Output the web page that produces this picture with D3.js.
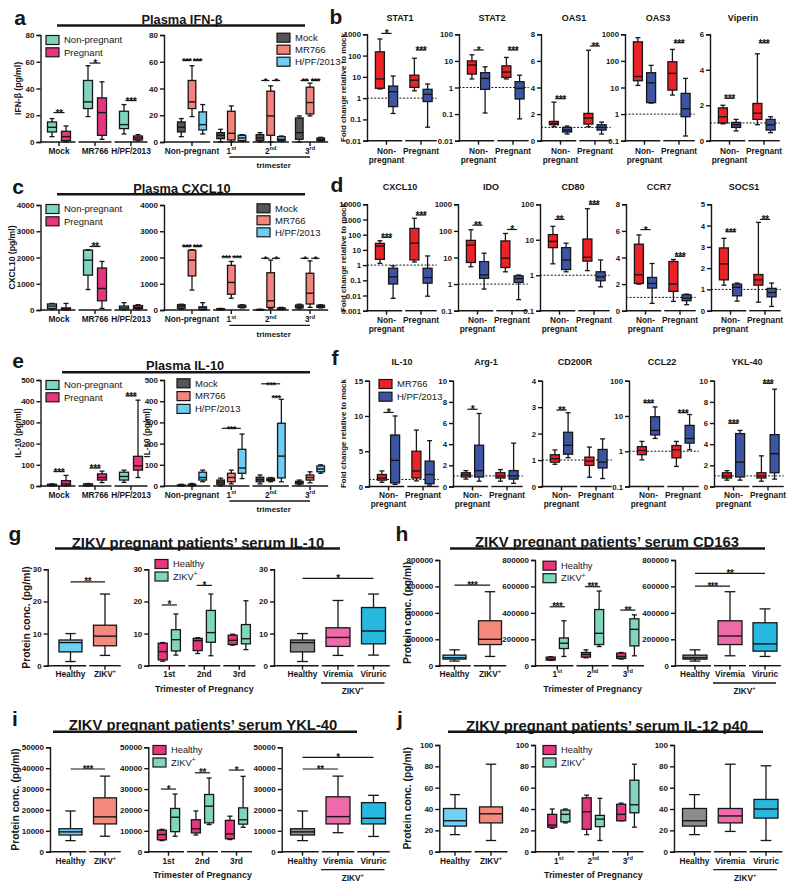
<!DOCTYPE html>
<html><head><meta charset="utf-8">
<script src="https://cdn.jsdelivr.net/npm/d3@7"></script>
<style>
body{margin:0;background:#fff;}
svg{display:block;}
</style></head><body>
<svg id="fig" width="800" height="887"></svg>
<script>
// ======================= DATA =======================
// box stats: [min, q1, median, q3, max]; nested [group][series]
// sig: [groupA, seriesA, groupB, seriesB, value, label]
const pregSeries = ["Non-pregnant", "Pregnant"];
const virusSeries = ["Mock", "MR766", "H/PF/2013"];
const strainSeries = ["MR766", "H/PF/2013"];
const plasmaGroupsLeft = ["Mock", "MR766", "H/PF/2013"];
const trimGroups = ["Non-pregnant", "1^st", "2^nd", "3^rd"];
const pregGroups = ["Non-\npregnant", "Pregnant"];

// Panel a – Plasma IFN-β
const aTicks = [0, 20, 40, 60, 80];
const aLeftBoxes = [
  [[4, 7.5, 11, 15, 17.5], [0, 1, 4, 8, 12]],
  [[19, 25, 30, 46, 57], [2, 5, 22, 33, 45]],
  [[6, 10, 13, 23, 28], [1, 1.5, 3, 4.5, 5.5]]
];
const aLeftSig = [[0, 0, 0, 1, 22, "**"], [1, 0, 1, 1, 59, "*"], [2, 0, 2, 1, 31, "***"]];
const aRightBoxes = [
  [[4, 7.5, 11, 15, 17.5], [19, 25, 30, 46, 57], [6, 9, 13, 22.5, 28]],
  [[0, 2.5, 5, 7, 9.5], [0, 1.5, 6.5, 23, 27], [0.5, 1, 3, 5, 5.5]],
  [[0, 1, 3, 5.5, 7], [0, 5, 19.5, 38, 42], [0.5, 1, 2, 4, 4.5]],
  [[0, 2, 7, 18, 19.5], [19.5, 21, 29.5, 41, 44], [0.5, 1, 2, 3, 3.5]]
];
const aRightSig = [[0, 0, 0, 1, 61, "***"], [0, 1, 0, 2, 61, "***"], [2, 0, 2, 1, 46, "*"], [2, 1, 2, 2, 46, "*"], [3, 0, 3, 1, 46, "**"], [3, 1, 3, 2, 46, "***"]];

// Panel c – Plasma CXCL10
const cTicks = [0, 1000, 2000, 3000, 4000];
const cLeftBoxes = [
  [[30, 60, 150, 230, 250], [0, 10, 40, 80, 250]],
  [[780, 1330, 1900, 2280, 2300], [60, 350, 820, 1600, 1850]],
  [[0, 30, 80, 150, 280], [20, 50, 100, 170, 200]]
];
const cLeftSig = [[1, 0, 1, 1, 2420, "**"]];
const cRightBoxes = [
  [[30, 60, 150, 200, 220], [760, 1300, 1900, 2280, 2300], [0, 20, 80, 120, 280]],
  [[0, 10, 30, 50, 60], [450, 600, 1050, 1700, 1850], [80, 100, 150, 180, 200]],
  [[0, 5, 10, 20, 30], [50, 100, 350, 1420, 1900], [10, 30, 50, 80, 100]],
  [[50, 80, 120, 190, 220], [100, 230, 640, 1400, 1870], [80, 100, 140, 180, 200]]
];
const cRightSig = [[0, 0, 0, 1, 2420, "***"], [0, 1, 0, 2, 2420, "***"], [1, 0, 1, 1, 2030, "***"], [1, 1, 1, 2, 2030, "***"], [2, 0, 2, 1, 1970, "*"], [2, 1, 2, 2, 1970, "*"], [3, 0, 3, 1, 1970, "*"], [3, 1, 3, 2, 1970, "*"]];

// Panel e – Plasma IL-10
const eTicks = [0, 100, 200, 300, 400, 500];
const eLeftBoxes = [
  [[0, 2, 5, 8, 10], [0, 3, 10, 25, 50]],
  [[0, 2, 5, 10, 12], [16, 28, 40, 57, 70]],
  [[17, 28, 45, 65, 75], [40, 75, 95, 140, 405]]
];
const eLeftSig = [[0, 0, 0, 1, 68, "***"], [1, 0, 1, 1, 85, "***"], [2, 0, 2, 1, 425, "***"]];
const eRightBoxes = [
  [[0, 1, 3, 5, 8], [0, 2, 5, 8, 12], [20, 28, 40, 65, 75]],
  [[0, 8, 18, 28, 37], [10, 20, 40, 60, 75], [35, 60, 85, 173, 245]],
  [[10, 20, 30, 41, 52], [20, 25, 30, 37, 40], [20, 38, 141, 296, 409]],
  [[5, 10, 15, 22, 28], [15, 28, 40, 52, 67], [60, 67, 80, 95, 100]]
];
const eRightSig = [[1, 0, 1, 2, 272, "***"], [2, 0, 2, 2, 482, "***"], [2, 1, 2, 2, 422, "***"]];

// Panel b – fold change (series: MR766, H/PF/2013)
const bGenes = ["STAT1", "STAT2", "OAS1", "OAS3", "Viperin"];
const bSTAT1 = [[[2.7, 2.9, 8, 150, 600], [0.19, 0.4, 2, 3.7, 11]], [[2.2, 3.2, 7, 12, 75], [0.043, 0.69, 1.5, 2.6, 4.6]]];
const bSTAT2 = [[[2.1, 3.2, 7, 10, 17], [0.11, 0.85, 2.2, 3.6, 6]], [[2.1, 2.4, 3.8, 6.5, 13.5], [0.066, 0.37, 0.93, 1.65, 2.9]]];
const bOAS1 = [[[1.05, 1.2, 1.3, 1.45, 2.9], [0.5, 0.65, 0.8, 1.0, 1.1]], [[1.05, 1.25, 1.7, 2.05, 6.8], [0.5, 0.8, 1.0, 1.2, 1.4]]];
const bOAS3 = [[[12, 18, 26, 520, 750], [2.6, 2.7, 15, 36, 68]], [[5.2, 8, 34, 93, 270], [0.15, 0.8, 1.6, 6, 22]]];
const bViperin = [[[0.95, 1.0, 1.35, 1.85, 2.0], [0.55, 0.75, 0.9, 1.03, 1.2]], [[0.9, 1.2, 1.55, 2.1, 4.9], [0.45, 0.6, 0.9, 1.2, 1.35]]];
const bSig = [
  [[0, 0, 0, 1, 1100, "*"], [1, 0, 1, 1, 183, "***"]],
  [[0, 0, 0, 1, 25.7, "*"], [1, 0, 1, 1, 25.7, "***"]],
  [[0, 0, 0, 1, 3.16, "***"], [1, 0, 1, 1, 7.12, "**"]],
  [[1, 0, 1, 1, 483, "***"]],
  [[0, 0, 0, 1, 2.39, "***"], [1, 0, 1, 1, 5.52, "***"]]
];
const bTicks = [[0.01, 0.1, 1, 10, 100, 1000], [0.01, 0.1, 1, 10, 100], [0, 2, 4, 6, 8], [0.1, 1, 10, 100, 1000], [0, 2, 4, 6]];

// Panel d
const dGenes = ["CXCL10", "IDO", "CD80", "CCR7", "SOCS1"];
const dCXCL10 = [[[1.3, 2.4, 18, 27, 40], [0.0065, 0.057, 0.17, 0.62, 0.9]], [[1.6, 2.2, 28, 260, 1200], [0.009, 0.065, 0.15, 0.62, 4]]];
const dIDO = [[[4.5, 6.5, 29, 44, 110], [0.65, 1.65, 2.2, 7, 14.5]], [[2.9, 4.2, 9.5, 42, 80], [0.26, 1.15, 1.6, 2.05, 2.2]]];
const dCD80 = [[[2.1, 6, 9, 14, 24], [1.25, 1.45, 2.7, 6, 8]], [[1.35, 2.5, 3.2, 10.5, 75], [0.47, 0.7, 0.9, 1.25, 2.7]]];
const dCCR7 = [[[2.0, 2.05, 2.7, 5.0, 5.7], [0.55, 1.7, 2.05, 2.5, 3.55]], [[0.7, 1.45, 2.0, 3.7, 3.85], [0.45, 0.75, 0.95, 1.2, 1.25]]];
const dSOCS1 = [[[1.2, 1.45, 2.2, 2.95, 3.4], [0.45, 0.7, 1.1, 1.25, 1.3]], [[0.4, 1.2, 1.45, 1.7, 4.15], [0.2, 0.65, 0.85, 1.05, 1.3]]];
const dSig = [
  [[0, 0, 0, 1, 67, "***"], [1, 0, 1, 1, 1980, "***"]],
  [[0, 0, 0, 1, 164, "**"], [1, 0, 1, 1, 113, "*"]],
  [[0, 0, 0, 1, 37.5, "**"], [1, 0, 1, 1, 100, "***"]],
  [[0, 0, 0, 1, 6.1, "*"], [1, 0, 1, 1, 4.09, "***"]],
  [[0, 0, 0, 1, 3.71, "***"], [1, 0, 1, 1, 4.29, "**"]]
];
const dTicks = [[0.001, 0.01, 0.1, 1, 10, 100, 1000, 10000], [0.1, 1, 10, 100, 1000], [0.1, 1, 10, 100], [0, 2, 4, 6, 8], [0, 1, 2, 3, 4, 5]];

// Panel f
const fGenes = ["IL-10", "Arg-1", "CD200R", "CCL22", "YKL-40"];
const fIL10 = [[[0.6, 0.9, 1.2, 1.7, 2.2], [0.3, 0.5, 3.7, 7.3, 10]], [[0.8, 1.2, 2.2, 5, 8], [0.2, 0.4, 1.7, 3.6, 6.5]]];
const fArg1 = [[[0.7, 0.9, 1.1, 1.3, 1.5], [0.5, 0.9, 1.5, 3.9, 6.9]], [[0.5, 0.8, 1.0, 1.3, 1.6], [0.3, 0.7, 1.0, 1.5, 4.1]]];
const fCD200R = [[[0.84, 0.92, 1.05, 1.2, 1.38], [1.09, 1.22, 1.56, 2.05, 2.79]], [[0.35, 0.8, 0.96, 1.11, 1.49], [0.3, 0.7, 0.92, 1.4, 1.8]]];
const fCCL22 = [[[0.57, 0.8, 1.05, 1.35, 1.9], [2.3, 2.9, 3.9, 9.5, 18]], [[0.37, 0.65, 1.1, 1.45, 1.9], [1.1, 1.7, 2.3, 5.4, 11]]];
const fYKL40 = [[[0.6, 0.8, 1.0, 1.3, 1.5], [0.6, 0.9, 2.3, 5.0, 5.3]], [[0.5, 0.8, 1.0, 1.3, 2.9], [0.7, 1.3, 3.1, 4.9, 9.2]]];
const fSig = [
  [[0, 0, 0, 1, 10.5, "*"]],
  [[0, 0, 0, 1, 7.3, "*"]],
  [[0, 0, 0, 1, 2.89, "**"]],
  [[0, 0, 0, 1, 23.8, "***"], [1, 0, 1, 1, 12.4, "***"]],
  [[0, 0, 0, 1, 5.97, "***"], [1, 0, 1, 1, 9.75, "***"]]
];
const fTicks = [[0, 5, 10, 15], [0, 2, 4, 6, 8, 10], [0, 1, 2, 3, 4], [0.1, 1, 10, 100], [0, 2, 4, 6, 8, 10]];

// Panels g–j: patients' serum
const hzGroups = ["Healthy", "ZIKV^+"];
const trimPlain = ["1st", "2nd", "3rd"];
const trimSup = ["1^st", "2^nd", "3^rd"];
const hzSeries = ["Healthy", "ZIKV^+"];
const statusGroups = ["Healthy", "Viremia", "Viruric"];
const single = ["value"];

const gTicks = [0, 10, 20, 30];
const g1Boxes = [[[1.3, 4.3, 7.2, 8, 10]], [[3.2, 6.2, 9.2, 12.6, 22.3]]];
const g1Sig = [[0, 0, 1, 0, 26.1, "**"]];
const g2Boxes = [[[1.4, 1.8, 4.4, 7, 7.2], [3.3, 4.6, 8.1, 11.2, 16.1]], [[3.8, 4.7, 7.8, 8.5, 8.7], [3.1, 7.3, 10.3, 17.2, 22.3]], [[6.4, 6.6, 7.9, 9.5, 9.8], [5, 6.8, 8.4, 12.8, 20.2]]];
const g2Sig = [[0, 0, 0, 1, 18.9, "*"], [1, 0, 1, 1, 25, "*"]];
const g3Boxes = [[[1.3, 4.3, 7.2, 8, 10]], [[3.2, 6, 8.8, 11.8, 20.3]], [[3.3, 6.8, 10.8, 18.1, 22.3]]];
const g3Sig = [[0, 0, 2, 0, 27.2, "*"]];

const hTicks = [0, 200000, 400000, 600000, 800000];
const h1Boxes = [[[35000, 50000, 60000, 80000, 120000]], [[70000, 160000, 200000, 340000, 560000]]];
const h1Sig = [[0, 0, 1, 0, 610000, "***"]];
const h2Boxes = [[[40000, 42000, 50000, 65000, 68000], [70000, 130000, 170000, 210000, 340000]], [[60000, 65000, 85000, 100000, 120000], [145000, 160000, 245000, 425000, 565000]], [[50000, 55000, 70000, 95000, 100000], [75000, 150000, 275000, 355000, 385000]]];
const h2Sig = [[0, 0, 0, 1, 446000, "***"], [1, 0, 1, 1, 598000, "***"], [2, 0, 2, 1, 421000, "**"]];
const h3Boxes = [[[35000, 50000, 60000, 80000, 120000]], [[75000, 160000, 225000, 340000, 560000]], [[70000, 110000, 165000, 325000, 430000]]];
const h3Sig = [[0, 0, 1, 0, 603000, "***"], [0, 0, 2, 0, 699000, "**"]];

const iTicks = [0, 10000, 20000, 30000, 40000, 50000];
const i1Boxes = [[[5300, 8000, 9500, 11000, 19500]], [[7400, 13300, 16700, 25800, 36200]]];
const i1Sig = [[0, 0, 1, 0, 39600, "***"]];
const i2Boxes = [[[5300, 5700, 8200, 10300, 10700], [7400, 9600, 16500, 20700, 27600]], [[8000, 9000, 11000, 15300, 19500], [13000, 13800, 21800, 27400, 35300]], [[5800, 6200, 8500, 15000, 17000], [11700, 13200, 15300, 21000, 36100]]];
const i2Sig = [[0, 0, 0, 1, 30000, "*"], [1, 0, 1, 1, 37800, "**"], [2, 0, 2, 1, 39100, "*"]];
const i3Boxes = [[[5300, 8000, 9500, 11000, 19500]], [[9100, 13300, 16800, 26300, 36200]], [[7300, 13300, 16000, 23500, 27000]]];
const i3Sig = [[0, 0, 1, 0, 39600, "**"], [0, 0, 2, 0, 45200, "*"]];

const jTicks = [0, 20, 40, 60, 80, 100];
const j1Boxes = [[[16, 24, 29, 40.5, 53.5]], [[10.5, 27, 35.5, 42, 82]]];
const j2Boxes = [[[22, 23, 25, 35, 40], [27, 28, 35, 39, 40]], [[16, 21, 37.5, 50.5, 53], [10.5, 23.5, 30.5, 34, 50]], [[29, 29, 35, 44.5, 45.5], [23, 36.5, 44, 67, 82]]];
const j3Boxes = [[[16, 24, 29, 40.5, 53.5]], [[19, 27, 33.5, 40.5, 82]], [[10.5, 31.5, 40, 49, 80.5]]];

// ======================= STYLE =======================
const FONT = '"Liberation Sans", Arial, Helvetica, sans-serif';
const INK = "#161616";
const cTeal = "#80d5bf", cPink = "#e8357f", cMock = "#555555", cMR = "#f4837b", cHPF = "#6dcdf2";
const cRed = "#ec2227", cBlue = "#3b55a4";
const cHealthyBlue = "#6fcff5", cZikvSalmon = "#f48a7d", cGray = "#8c8c8c", cViremia = "#ee6aaa", cViruric = "#27b8df";

const svg = d3.select("#fig").attr("font-family", FONT);

function txt(sel, x, y, str, o = {}) {
  const size = o.size || 8.5;
  const t = sel.append("text").attr("x", x).attr("y", y)
    .attr("text-anchor", o.anchor || "middle")
    .attr("font-size", size).attr("font-weight", o.weight || "bold")
    .attr("fill", INK);
  if (o.rotate) t.attr("transform", `rotate(-90,${x},${y})`);
  str.split("\n").forEach((ln, i) => {
    const parts = ln.split("^");
    t.append("tspan").attr("x", x).attr("dy", i === 0 ? "0.35em" : "1.1em").text(parts[0]);
    if (parts[1]) t.append("tspan").attr("dy", -size * 0.42).attr("font-size", size * 0.68).text(parts[1]);
  });
  return t;
}

function line(sel, x1, y1, x2, y2, w = 1.3, dash) {
  const l = sel.append("line").attr("x1", x1).attr("y1", y1).attr("x2", x2).attr("y2", y2)
    .attr("stroke", INK).attr("stroke-width", w);
  if (dash) l.attr("stroke-dasharray", dash);
  return l;
}

function legend(x, y, items, size = 9.5, gapY = 12.3) {
  const g = svg.append("g");
  items.forEach(([lab, col], i) => {
    const yy = y + i * gapY;
    g.append("rect").attr("x", x).attr("y", yy - 4.5).attr("width", 13).attr("height", 9)
      .attr("fill", col).attr("stroke", INK).attr("stroke-width", 1.2);
    txt(g, x + 18, yy, lab, { anchor: "start", weight: "normal", size });
  });
}

function title(x, y, str, x1, x2, ly, size = 12.8) {
  txt(svg, x, y, str, { size });
  line(svg, x1, ly, x2, ly, 2.6);
}

function boxPlot(o) {
  const g = svg.append("g");
  const y = (o.log ? d3.scaleLog() : d3.scaleLinear()).domain(o.domain).range([o.y0, o.y1]);
  const xg = d3.scalePoint().domain(o.groups).range([o.c0, o.cN]);
  const xs = d3.scalePoint().domain(o.series).range([-(o.off || 0), o.off || 0]);
  const n = o.groups.length;
  const step = (o.cN - o.c0) / (n - 1);
  const half = step / 2 - (o.gap == null ? 1.5 : o.gap);
  const xEnd = o.cN + half;

  // y axis
  const ax = d3.axisLeft(y).tickValues(o.ticks).tickFormat(o.fmt || (d => String(d)))
    .tickSizeOuter(0).tickSize(4).tickPadding(2);
  const ga = g.append("g").attr("transform", `translate(${o.ax},0)`).call(ax)
    .attr("font-family", FONT).attr("font-size", o.tickSize || 8).attr("font-weight", "bold");
  ga.select(".domain").attr("stroke", INK).attr("stroke-width", 1.4);
  ga.selectAll(".tick line").attr("stroke", INK).attr("stroke-width", 1.4);
  ga.selectAll(".tick text").attr("fill", INK);

  // segmented x axis
  o.groups.forEach((gr, i) => {
    const c = xg(gr);
    line(g, i === 0 ? o.ax - 0.7 : c - half, o.y0, c + half, o.y0, 1.4);
    line(g, c, o.y0, c, o.y0 + 4, 1.4);
    if (o.labels) txt(g, c, o.labY, o.labels[i], { size: o.labSize || 8.3 });
  });

  // dashed reference line
  if (o.dash != null) line(g, o.ax, y(o.dash), xEnd, y(o.dash), 1, "2,1.6");

  // boxes
  const cells = [];
  o.groups.forEach((gr, gi) => o.series.forEach((se, si) =>
    cells.push({ gi, si, gr, se, s: o.boxes[gi][si] })));
  const bw = o.bw, cap = Math.max(bw * 0.45, 5);
  g.selectAll("g.box").data(cells).join("g").attr("class", "box").each(function (d) {
    const s = d3.select(this);
    const cx = xg(d.gr) + xs(d.se);
    const [mn, q1, md, q3, mx] = d.s;
    const col = o.colorBy === "group" ? o.colors[d.gi] : o.colors[d.si];
    line(s, cx, y(mx), cx, y(q3));
    line(s, cx, y(q1), cx, y(mn));
    line(s, cx - cap / 2, y(mx), cx + cap / 2, y(mx));
    line(s, cx - cap / 2, y(mn), cx + cap / 2, y(mn));
    s.append("rect").attr("x", cx - bw / 2).attr("y", y(q3)).attr("width", bw)
      .attr("height", Math.max(0.5, y(q1) - y(q3)))
      .attr("fill", col).attr("stroke", INK).attr("stroke-width", 1.3);
    line(s, cx - bw / 2, y(md), cx + bw / 2, y(md), 1.4);
  });

  // significance bars
  (o.sig || []).forEach(([g1, s1, g2, s2, v, t]) => {
    const xa = xg(o.groups[g1]) + xs(o.series[s1]);
    const xb = xg(o.groups[g2]) + xs(o.series[s2]);
    const yy = y(v);
    const inset = o.sigInset == null ? 1.5 : o.sigInset;
    line(g, xa + inset, yy, xb - inset, yy, 1.2);
    g.append("text").attr("x", (xa + xb) / 2).attr("y", yy + (o.starDy || 4))
      .attr("text-anchor", "middle").attr("font-size", o.starSize || 10.5).attr("font-weight", "bold")
      .attr("letter-spacing", o.starLs == null ? -0.5 : o.starLs).attr("fill", INK).text(t);
  });

  return { xg, xs, y, xEnd };
}

// ======================= PANELS a / c / e =======================
function plasmaPanel(cfg) {
  boxPlot({
    ax: 40.5, y0: cfg.y0, y1: cfg.y1, domain: cfg.domain, ticks: cfg.ticks,
    groups: plasmaGroupsLeft, series: pregSeries, boxes: cfg.leftBoxes,
    c0: 59, cN: 131, off: 7, bw: 9, colors: [cTeal, cPink],
    labels: plasmaGroupsLeft, labY: cfg.labY, sig: cfg.leftSig
  });
  const r = boxPlot({
    ax: 164, y0: cfg.y0, y1: cfg.y1, domain: cfg.domain, ticks: cfg.ticks,
    groups: trimGroups, series: virusSeries, boxes: cfg.rightBoxes,
    c0: 192, cN: 310, off: 10.7, bw: 7.6, colors: [cMock, cMR, cHPF],
    labels: trimGroups, labY: cfg.labY, sig: cfg.rightSig, sigInset: 1.2,
    starSize: 9.6, starLs: -0.7
  });
  const x1 = r.xg("1^st") - 2, x3 = r.xg("3^rd");
  line(svg, x1, cfg.labY + 6, x3, cfg.labY + 6, 1.3);
  txt(svg, (x1 + x3) / 2 + 4, cfg.labY + 14.5, "trimester", { size: 8 });
}

// a
txt(svg, 20, 18, "a", { size: 21 });
title(182, 19.5, "Plasma IFN-β", 57, 305, 25.5);
plasmaPanel({ y0: 142, y1: 35, domain: [0, 80], ticks: aTicks, labY: 151,
  leftBoxes: aLeftBoxes, leftSig: aLeftSig, rightBoxes: aRightBoxes, rightSig: aRightSig });
txt(svg, 18, 88.5, "IFN-β (pg/ml)", { rotate: true, size: 8.6 });
legend(46, 40, [["Non-pregnant", cTeal], ["Pregnant", cPink]]);
legend(277, 37.7, [["Mock", cMock], ["MR766", cMR], ["H/PF/2013", cHPF]], 9.5, 12);

// c
txt(svg, 18, 187, "c", { size: 21 });
title(182, 188.5, "Plasma CXCL10", 57, 305, 194.3);
plasmaPanel({ y0: 310, y1: 205, domain: [0, 4000], ticks: cTicks, labY: 319.3,
  leftBoxes: cLeftBoxes, leftSig: cLeftSig, rightBoxes: cRightBoxes, rightSig: cRightSig });
txt(svg, 12, 257.5, "CXCL10 (pg/ml)", { rotate: true, size: 8.6 });
legend(46, 209, [["Non-pregnant", cTeal], ["Pregnant", cPink]]);
legend(257, 208.3, [["Mock", cMock], ["MR766", cMR], ["H/PF/2013", cHPF]], 9.5, 12);

// e
txt(svg, 18, 361, "e", { size: 21 });
title(185, 366, "Plasma IL-10", 62, 310, 372.3);
plasmaPanel({ y0: 486, y1: 380, domain: [0, 500], ticks: eTicks, labY: 495,
  leftBoxes: eLeftBoxes, leftSig: eLeftSig, rightBoxes: eRightBoxes, rightSig: eRightSig });
txt(svg, 18, 433, "IL-10 (pg/ml)", { rotate: true, size: 8.3 });
txt(svg, 147, 433, "IL-10 (pg/ml)", { rotate: true, size: 8.3 });
legend(46, 385, [["Non-pregnant", cTeal], ["Pregnant", cPink]]);
legend(177, 383.3, [["Mock", cMock], ["MR766", cMR], ["H/PF/2013", cHPF]], 9.5, 12.8);

// ======================= PANELS b / d / f =======================
function foldRow(cfg) {
  cfg.genes.forEach((gene, k) => {
    const ax = cfg.axes[k];
    const isLog = cfg.logs[k];
    const ticks = cfg.ticks[k];
    boxPlot({
      ax, y0: cfg.y0, y1: cfg.y1, log: isLog,
      domain: [ticks[0], ticks[ticks.length - 1]], ticks,
      groups: pregGroups, series: strainSeries, boxes: cfg.boxes[k],
      c0: ax + 19.5, cN: ax + 54, off: 6.6, bw: 9, colors: [cRed, cBlue],
      labels: pregGroups, labY: cfg.labY, sig: cfg.sig[k], dash: 1, tickSize: 7.8
    });
    txt(svg, ax + 33, cfg.titleY, gene, { size: 9 });
  });
  txt(svg, 343, (cfg.y0 + cfg.y1) / 2, "Fold change relative to mock", { rotate: true, size: 7.9 });
}

txt(svg, 336, 16.5, "b", { size: 21 });
foldRow({ genes: bGenes, axes: [367, 459, 541, 625, 710], y0: 140.7, y1: 34.3, labY: 151, titleY: 18,
  logs: [true, true, false, true, false], ticks: bTicks,
  boxes: [bSTAT1, bSTAT2, bOAS1, bOAS3, bViperin], sig: bSig });

txt(svg, 337, 185, "d", { size: 21 });
foldRow({ genes: dGenes, axes: [367, 458, 540, 626, 711], y0: 310.7, y1: 204.3, labY: 320, titleY: 186.7,
  logs: [true, true, true, false, false], ticks: dTicks,
  boxes: [dCXCL10, dIDO, dCD80, dCCR7, dSOCS1], sig: dSig });

txt(svg, 335, 358, "f", { size: 21 });
foldRow({ genes: fGenes, axes: [369, 453, 542, 629, 714], y0: 486.5, y1: 380.7, labY: 495, titleY: 362.3,
  logs: [false, false, false, true, false], ticks: fTicks,
  boxes: [fIL10, fArg1, fCD200R, fCCL22, fYKL40], sig: fSig });
legend(379, 384, [["MR766", cRed], ["H/PF/2013", cBlue]], 9.5, 12.7);

// ======================= PANELS g / h / i / j =======================
function serumRow(cfg) {
  const common = { y0: cfg.y0, y1: cfg.y1, domain: cfg.domain, ticks: cfg.ticks, tickSize: 8, starSize: 10, starDy: 3.5 };
  boxPlot(Object.assign({}, common, {
    ax: cfg.ax[0], groups: hzGroups, series: single, boxes: cfg.b1,
    c0: cfg.c1[0], cN: cfg.c1[1], bw: 23, colors: [cHealthyBlue, cZikvSalmon], colorBy: "group",
    labels: hzGroups, labY: cfg.labY, sig: cfg.s1, sigInset: 0
  }));
  const m = boxPlot(Object.assign({}, common, {
    ax: cfg.ax[1], groups: cfg.trim, series: hzSeries, boxes: cfg.b2,
    c0: cfg.c2[0], cN: cfg.c2[1], off: 6.6, bw: 9, colors: [cPink, cTeal],
    labels: cfg.trim, labY: cfg.labY, sig: cfg.s2, sigInset: -1
  }));
  txt(svg, (m.xg(cfg.trim[0]) + m.xg(cfg.trim[2])) / 2, cfg.labY + 14.5, "Trimester of Pregnancy", { size: 8.9 });
  const r = boxPlot(Object.assign({}, common, {
    ax: cfg.ax[2], groups: statusGroups, series: single, boxes: cfg.b3,
    c0: cfg.c3[0], cN: cfg.c3[1], bw: 24, colors: [cGray, cViremia, cViruric], colorBy: "group",
    labels: statusGroups, labY: cfg.labY, sig: cfg.s3, sigInset: 0
  }));
  const xa = r.xg("Viremia") - 17, xb = r.xg("Viruric") + 11;
  line(svg, xa, cfg.labY + 9, xb, cfg.labY + 9, 1.3);
  txt(svg, (xa + xb) / 2, cfg.labY + 17, "ZIKV^+", { size: 8.3 });
  txt(svg, cfg.ylabX, (cfg.y0 + cfg.y1) / 2, "Protein conc. (pg/ml)", { rotate: true, size: 10.3 });
  legend(cfg.legX, cfg.legY, [["Healthy", cPink], ["ZIKV^+", cTeal]], 9.3, 12.5);
}

// g
txt(svg, 15, 534, "g", { size: 21 });
title(198, 543, "ZIKV pregnant patients’ serum IL-10", 55, 340, 548.5, 14.8);
serumRow({ y0: 665.7, y1: 569.3, domain: [0, 30], ticks: gTicks, labY: 674,
  ax: [47.7, 148.3, 274], c1: [70.5, 105], c2: [169.3, 239.3], c3: [302.5, 373.5],
  trim: trimPlain, b1: g1Boxes, b2: g2Boxes, b3: g3Boxes, s1: g1Sig, s2: g2Sig, s3: g3Sig,
  ylabX: 26.5, legX: 155, legY: 564 });

// h
txt(svg, 402, 534, "h", { size: 21 });
title(607, 542, "ZIKV pregnant patients’ serum CD163", 450, 765, 548.5, 14.8);
serumRow({ y0: 665.7, y1: 560, domain: [0, 800000], ticks: hTicks, labY: 674,
  ax: [439.3, 535, 675], c1: [454.5, 490], c2: [557.3, 627.8], c3: [695, 765],
  trim: trimSup, b1: h1Boxes, b2: h2Boxes, b3: h3Boxes, s1: h1Sig, s2: h2Sig, s3: h3Sig,
  ylabX: 407, legX: 543, legY: 565.7 });

// i
txt(svg, 15, 719, "i", { size: 21 });
title(203, 725, "ZIKV pregnant patients’ serum YKL-40", 53, 357, 731.7, 14.8);
serumRow({ y0: 851.7, y1: 747.3, domain: [0, 50000], ticks: iTicks, labY: 860.7,
  ax: [50, 148.3, 281.7], c1: [70.5, 105], c2: [168.5, 236.5], c3: [302.5, 373.5],
  trim: trimPlain, b1: i1Boxes, b2: i2Boxes, b3: i3Boxes, s1: i1Sig, s2: i2Sig, s3: i3Sig,
  ylabX: 15, legX: 153, legY: 750 });

// j
txt(svg, 400, 719, "j", { size: 21 });
title(607, 726, "ZIKV pregnant patients’ serum IL-12 p40", 448, 763, 731.7, 14.8);
serumRow({ y0: 851.7, y1: 745, domain: [0, 100], ticks: jTicks, labY: 860.7,
  ax: [439.3, 535, 674], c1: [455, 491], c2: [558.8, 627.8], c3: [694.5, 766],
  trim: trimSup, b1: j1Boxes, b2: j2Boxes, b3: j3Boxes, s1: [], s2: [], s3: [],
  ylabX: 407.3, legX: 543, legY: 750 });
</script>
</body></html>
